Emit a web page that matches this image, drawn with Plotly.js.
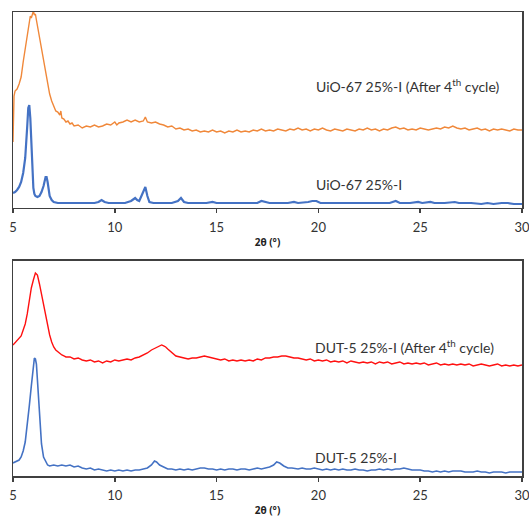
<!DOCTYPE html>
<html>
<head>
<meta charset="utf-8">
<script src="https://cdn.plot.ly/plotly-3.0.1.min.js"></script>
<style>html,body{margin:0;padding:0;background:#fff;}#chart{width:529px;height:517px;}</style>
</head>
<body>
<div id="chart"></div>
<script>
// ---- Top panel: UiO-67 25%-I after 4th cycle (orange) ----
const uioCycleX = [5.0,5.05,5.1,5.2,5.3,5.4,5.5,5.6,5.7,5.8,5.85,5.9,5.95,6.0,6.05,6.1,6.15,6.2,6.3,6.4,6.5,6.6,6.7,6.8,6.9,7.0,7.1,7.2,7.3,7.35,7.4,7.5,7.6,7.7,7.8,7.9,8.0,8.2,8.4,8.6,8.8,9.0,9.2,9.4,9.6,9.8,10.0,10.1,10.2,10.4,10.6,10.8,11.0,11.2,11.4,11.5,11.6,11.8,12.0,12.2,12.4,12.6,12.8,13.0,13.2,13.4,13.6,13.8,14.0,14.2,14.4,14.6,14.8,15.0,15.2,15.4,15.6,15.8,16.0,16.2,16.4,16.6,16.8,17.0,17.2,17.4,17.6,17.8,18.0,18.2,18.4,18.6,18.8,19.0,19.2,19.4,19.6,19.8,20.0,20.2,20.4,20.6,20.8,21.0,21.2,21.4,21.6,21.8,22.0,22.2,22.4,22.6,22.8,23.0,23.2,23.4,23.6,23.8,24.0,24.2,24.4,24.6,24.8,25.0,25.2,25.4,25.6,25.8,26.0,26.2,26.4,26.6,26.8,27.0,27.2,27.4,27.6,27.8,28.0,28.2,28.4,28.6,28.8,29.0,29.2,29.4,29.6,29.8,30.0];
const uioCycleY = [66,112,117,119,124,131,146,158,172,186,192,190,195,197,193,194,188,182,170,158,146,134,124,114,107,102,97,96,93,97,90,89,86,87,84,85,82,83,80,82,81,83,81,82,84,83,86,83,85,86,88,86,88,86,87,91,86,85,86,84,83,81,82,79,80,78,79,77,78,76,77,76,78,76,77,75,77,76,78,76,77,76,78,77,79,77,78,77,79,78,77,79,78,80,78,79,77,79,78,80,78,77,79,78,77,79,78,77,79,78,80,78,79,77,79,78,80,81,79,80,78,79,78,80,79,78,79,80,79,81,80,82,80,79,80,78,79,80,78,79,77,79,78,79,78,77,79,78,78];

// ---- Top panel: UiO-67 25%-I (blue) ----
const uioX = [5.0,5.1,5.2,5.3,5.4,5.5,5.6,5.65,5.7,5.75,5.8,5.85,5.9,5.95,6.0,6.05,6.1,6.2,6.3,6.4,6.5,6.6,6.65,6.7,6.75,6.8,6.9,7.0,7.2,7.5,8.0,8.5,9.0,9.2,9.35,9.5,9.7,10.0,10.5,10.8,11.0,11.1,11.2,11.35,11.45,11.5,11.6,11.7,11.9,12.2,12.5,12.8,13.1,13.25,13.4,13.6,14.0,14.5,14.8,15.0,15.5,16.0,16.5,17.0,17.2,17.35,17.6,18.0,18.5,18.8,19.0,19.5,19.7,19.9,20.1,20.5,21.0,21.5,22.0,22.5,23.0,23.5,23.8,24.0,24.5,24.9,25.1,25.5,25.7,26.2,26.7,26.9,27.5,28.0,28.3,28.6,29.0,29.3,29.6,30.0];
const uioY = [15,16,18,21,26,35,50,62,82,100,103,90,60,35,20,14,12,11,12,16,22,31,31,26,18,12,8,6,5,5,5,5,5,6,8,6,5,5,5,7,10,8,7,14,20,21,12,6,5,5,5,5,7,10,6,5,5,5,6,5,5,5,5,5,7,6,5,5,5,6,5,6,7,7,5,5,5,5,5,5,5,5,7,5,5,6,5,6,5,5,6,5,5,4,5,4,5,5,4,4];

// ---- Bottom panel: DUT-5 25%-I after 4th cycle (red) ----
const dutCycleX = [5.0,5.1,5.2,5.3,5.4,5.5,5.6,5.7,5.8,5.9,6.0,6.05,6.1,6.15,6.2,6.3,6.4,6.5,6.6,6.7,6.8,6.9,7.0,7.1,7.2,7.3,7.4,7.5,7.6,7.8,8.0,8.2,8.4,8.6,8.8,9.0,9.2,9.4,9.6,9.8,10.0,10.2,10.4,10.6,10.8,11.0,11.2,11.4,11.6,11.8,12.0,12.2,12.3,12.4,12.5,12.6,12.8,13.0,13.2,13.4,13.6,13.8,14.0,14.2,14.4,14.6,14.8,15.0,15.2,15.4,15.6,15.8,16.0,16.2,16.4,16.6,16.8,17.0,17.2,17.4,17.6,17.8,18.0,18.2,18.4,18.6,18.8,19.0,19.2,19.4,19.6,19.8,20.0,20.2,20.4,20.6,20.8,21.0,21.2,21.4,21.6,21.8,22.0,22.2,22.4,22.6,22.8,23.0,23.2,23.4,23.6,23.8,24.0,24.2,24.4,24.6,24.8,25.0,25.2,25.4,25.6,25.8,26.0,26.2,26.4,26.6,26.8,27.0,27.2,27.4,27.6,27.8,28.0,28.2,28.4,28.6,28.8,29.0,29.2,29.4,29.6,29.8,30.0];
const dutCycleY = [131,133,135,137,140,146,152,162,176,188,196,200,203,202,201,192,182,170,160,150,141,134,129,126,124,122,121,120,119,119,117,118,116,115,116,114,115,113,115,114,116,115,116,117,116,118,119,121,123,126,128,130,131,130,129,127,123,120,119,118,117,118,118,119,120,119,118,117,116,117,115,116,115,116,115,116,115,117,116,118,118,119,119,120,120,119,118,118,117,116,117,115,116,115,116,114,115,114,115,113,115,114,113,114,113,114,112,114,113,114,112,113,114,112,113,112,113,112,113,111,112,113,111,112,111,112,111,112,111,112,110,111,112,111,110,111,112,110,111,110,111,110,111];

// ---- Bottom panel: DUT-5 25%-I (blue) ----
const dutX = [5.0,5.1,5.2,5.3,5.4,5.5,5.6,5.7,5.8,5.9,6.0,6.05,6.1,6.15,6.2,6.25,6.3,6.35,6.4,6.5,6.6,6.7,6.8,7.0,7.2,7.4,7.6,7.8,8.0,8.2,8.4,8.6,8.8,9.0,9.2,9.4,9.6,9.8,10.0,10.2,10.4,10.6,10.8,11.0,11.2,11.4,11.6,11.8,11.95,12.05,12.2,12.4,12.6,12.8,13.0,13.2,13.4,13.6,13.8,14.0,14.2,14.4,14.6,14.8,15.0,15.2,15.4,15.6,15.8,16.0,16.2,16.4,16.6,16.8,17.0,17.2,17.4,17.6,17.8,17.95,18.1,18.3,18.5,18.7,19.0,19.2,19.4,19.6,19.8,20.0,20.2,20.4,20.6,20.8,21.0,21.2,21.4,21.6,21.8,22.0,22.2,22.4,22.6,22.8,23.0,23.2,23.4,23.6,23.8,24.0,24.2,24.4,24.6,24.8,25.0,25.2,25.4,25.6,25.8,26.0,26.2,26.4,26.6,26.8,27.0,27.2,27.4,27.6,27.8,28.0,28.2,28.4,28.6,28.8,29.0,29.2,29.4,29.6,29.8,30.0];
const dutY = [13,14,15,16,19,25,34,50,70,90,111,118,117,112,96,80,66,48,32,19,14,11,10,11,10,11,10,11,9,10,8,7,8,6,7,6,5,6,5,6,5,6,5,6,6,7,8,11,15,14,11,9,7,7,6,7,6,7,6,7,8,8,7,7,6,7,6,7,7,6,7,7,6,7,8,7,8,9,11,14,13,10,8,8,7,8,7,7,8,7,6,7,6,7,6,7,6,6,7,6,6,5,6,6,7,6,7,6,7,7,8,7,6,6,6,5,5,4,5,4,5,4,5,5,5,4,4,4,5,4,4,3,4,4,4,3,4,4,4,4];

// ---- Labels and ticks ----
const seriesLabels = ['UiO-67 25%-I (After 4<sup>th</sup> cycle)', 'UiO-67 25%-I', 'DUT-5 25%-I (After 4<sup>th</sup> cycle)', 'DUT-5 25%-I'];
const tickVals = [5,10,15,20,25,30];
const xTitle = '<b>2θ (°)</b>';

const axisColor = '#404040';
const tickFont = {family: 'Lato, "Open Sans", sans-serif', size: 13, color: '#333333'};
const labelFont = {family: 'Lato, "Open Sans", sans-serif', size: 14, color: '#333333'};

const traces = [
  {x: uioCycleX, y: uioCycleY, xaxis: 'x', yaxis: 'y', mode: 'lines', line: {color: '#F0883A', width: 1.4}, hoverinfo: 'skip'},
  {x: uioX, y: uioY, xaxis: 'x', yaxis: 'y', mode: 'lines', line: {color: '#4472C4', width: 2.2}, hoverinfo: 'skip'},
  {x: dutCycleX, y: dutCycleY, xaxis: 'x2', yaxis: 'y2', mode: 'lines', line: {color: '#FF1010', width: 1.4}, hoverinfo: 'skip'},
  {x: dutX, y: dutY, xaxis: 'x2', yaxis: 'y2', mode: 'lines', line: {color: '#4472C4', width: 1.6}, hoverinfo: 'skip'}
];

function xAxis(anchor) {
  return {
    anchor: anchor, range: [5, 30], tickvals: tickVals, ticktext: tickVals.map(String),
    showline: true, linecolor: axisColor, linewidth: 1.5, mirror: true,
    ticks: 'outside', ticklen: 4, tickcolor: axisColor, tickwidth: 1.5,
    ticklabeloverflow: 'allow', ticklabelstandoff: 3,
    showgrid: false, zeroline: false, tickfont: tickFont,
    title: {text: xTitle, font: {family: '"Open Sans", sans-serif', size: 10, color: '#222222'}, standoff: 5}
  };
}
function yAxis(anchor, domain, top) {
  return {
    anchor: anchor, domain: domain, range: [0, top],
    showline: true, linecolor: axisColor, linewidth: 1.5, mirror: true,
    ticks: '', showticklabels: false, showgrid: false, zeroline: false
  };
}

const layout = {
  width: 529, height: 517,
  margin: {l: 13, r: 7, t: 12, b: 41},
  paper_bgcolor: '#ffffff', plot_bgcolor: '#ffffff',
  showlegend: false,
  xaxis: xAxis('y'),
  yaxis: yAxis('x', [0.5776, 1], 196),
  xaxis2: xAxis('y2'),
  yaxis2: yAxis('x2', [0, 0.4634], 215),
  annotations: [
    {xref: 'x', yref: 'y', x: 19.8, y: 123, text: seriesLabels[0], showarrow: false, xanchor: 'left', yanchor: 'middle', font: labelFont},
    {xref: 'x', yref: 'y', x: 19.8, y: 23, text: seriesLabels[1], showarrow: false, xanchor: 'left', yanchor: 'middle', font: labelFont},
    {xref: 'x2', yref: 'y2', x: 19.75, y: 129, text: seriesLabels[2], showarrow: false, xanchor: 'left', yanchor: 'middle', font: labelFont},
    {xref: 'x2', yref: 'y2', x: 19.75, y: 19, text: seriesLabels[3], showarrow: false, xanchor: 'left', yanchor: 'middle', font: labelFont}
  ]
};

Plotly.newPlot('chart', traces, layout, {displayModeBar: false, staticPlot: true});
</script>
</body>
</html>
